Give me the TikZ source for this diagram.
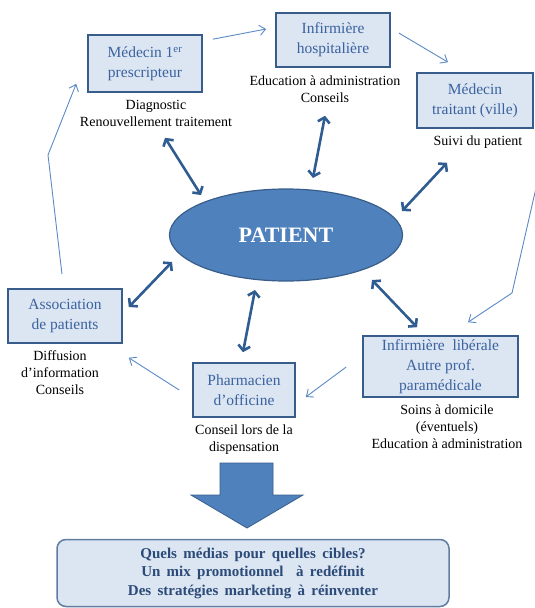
\documentclass[tikz,border=0pt]{standalone}
\usepackage{fontspec}
\setmainfont{Liberation Serif}
\usetikzlibrary{arrows.meta,calc,shapes.geometric,positioning}
\definecolor{boxfill}{HTML}{DCE6F2}
\definecolor{boxline}{HTML}{385D8A}
\definecolor{boxtext}{HTML}{3A62A0}
\definecolor{patfill}{HTML}{4F81BD}
\definecolor{darrow}{HTML}{2F5C91}
\definecolor{larrow}{HTML}{5B8AC6}
\definecolor{goaltext}{HTML}{2B4A78}
\newcommand{\goalfont}{\fontsize{15}{18.5}\selectfont\bfseries\spaceskip=0.42em plus 0.1em\relax}

\begin{document}
\begin{tikzpicture}[x=1pt,y=-1pt,
  actor/.style={draw=boxline,line width=1.6pt,fill=boxfill,text=boxtext,align=center,inner sep=0pt,font=\fontsize{15.5}{20}\selectfont},
  role/.style={align=center,inner sep=0pt,font=\fontsize{14}{17}\selectfont},
  link/.style={draw=larrow,line width=0.9pt,-{Straight Barb[length=6pt,width=10pt]}},
  duo/.style={draw=darrow,line width=2.6pt,{Straight Barb[length=5pt,width=12pt]}-{Straight Barb[length=5pt,width=12pt]}}]
\useasboundingbox (0,0) rectangle (535,608);

\node[ellipse,draw=boxline,line width=1.2pt,fill=patfill,minimum width=233pt,minimum height=92pt,inner sep=0pt,text=white,font=\fontsize{22}{24}\selectfont\bfseries] (pat) at (286,235) {PATIENT};

\node[actor,minimum width=114pt,minimum height=57pt] (med1) at (145,63.5) {Médecin 1\textsuperscript{er}\\prescripteur};
\node[actor,minimum width=114pt,minimum height=54pt] (infh) at (333,40) {Infirmière\\hospitalière};
\node[actor,minimum width=116pt,minimum height=55pt] (medt) at (475,100.5) {Médecin\\traitant (ville)};
\node[actor,minimum width=114pt,minimum height=54pt] (asso) at (65,316) {Association\\de patients};
\node[actor,minimum width=102pt,minimum height=54pt] (pharm) at (244,390) {Pharmacien\\d’officine};
\node[actor,minimum width=155pt,minimum height=61pt] (infl) at (440.5,366.5) {Infirmière\ \ libérale\\Autre prof.\\paramédicale};

\node[role] (med1txt) at (156,113) {Diagnostic\\Renouvellement traitement};
\node[role] (infhtxt) at (325,89) {Education à administration\\Conseils};
\node[role] (medttxt) at (478,142) {Suivi du patient};
\node[role] (assotxt) at (60,373) {Diffusion\\d’information\\Conseils};
\node[role] (pharmtxt) at (244,440) {Conseil lors de la\\dispensation};
\node[role] (infltxt) at (447,427) {Soins à domicile\\(éventuels)\\Education à administration};

\coordinate (leftbend) at (48,155);
\coordinate (rightin) at (536,188);
\coordinate (rightbend) at (512,293);

\draw[link] ($(asso.north)+(-3,-14)$) -- (leftbend) -- ($(med1.south west)+(-11,-9)$);
\draw[link] ($(med1.north east)+(10,5)$) -- ($(infh.west)+(-9,-11)$);
\draw[link] ($(infh.east)+(8,-7)$) -- ($(medt.north)+(-27,-10)$);
\draw[link] (rightin) -- (rightbend) -- ($(infl.north)+(27.5,-13)$);
\draw[link] ($(infl.west)+(-16,0.5)$) -- ($(pharm.east)+(10,7)$);
\draw[link] ($(pharm.west)+(-13,0)$) -- ($(asso.south east)+(6,14)$);

\draw[duo] ($(med1.south)+(20,45)$) -- ($(pat.center)+(-85,-40)$);
\draw[duo] ($(infh.south)+(-8,48)$) -- ($(pat.center)+(27,-57)$);
\draw[duo] ($(medt.south)+(-28,34)$) -- ($(pat.center)+(116,-24)$);
\draw[duo] ($(pat.center)+(-114,27)$) -- ($(asso.east)+(6,-9)$);
\draw[duo] ($(pat.center)+(-31,55)$) -- ($(pharm.north)+(-1,-10)$);
\draw[duo] ($(pat.center)+(86,45)$) -- ($(infl.north)+(-23.5,-8)$);

\draw[draw=boxline,line width=0.8pt,fill=patfill] (220,463) -- (273,463) -- (273,495) -- (303,495) -- (247,528) -- (191,495) -- (220,495) -- cycle;

\node[draw=boxline!80,line width=1.5pt,fill=boxfill,rounded corners=9pt,minimum width=392pt,minimum height=67pt,inner sep=0pt,align=center,text=goaltext,font=\goalfont] (goal) at (253,573) {Quels médias pour quelles cibles?\\Un mix promotionnel\ \ à redéfinit\\Des stratégies marketing à réinventer};
\end{tikzpicture}
\end{document}
